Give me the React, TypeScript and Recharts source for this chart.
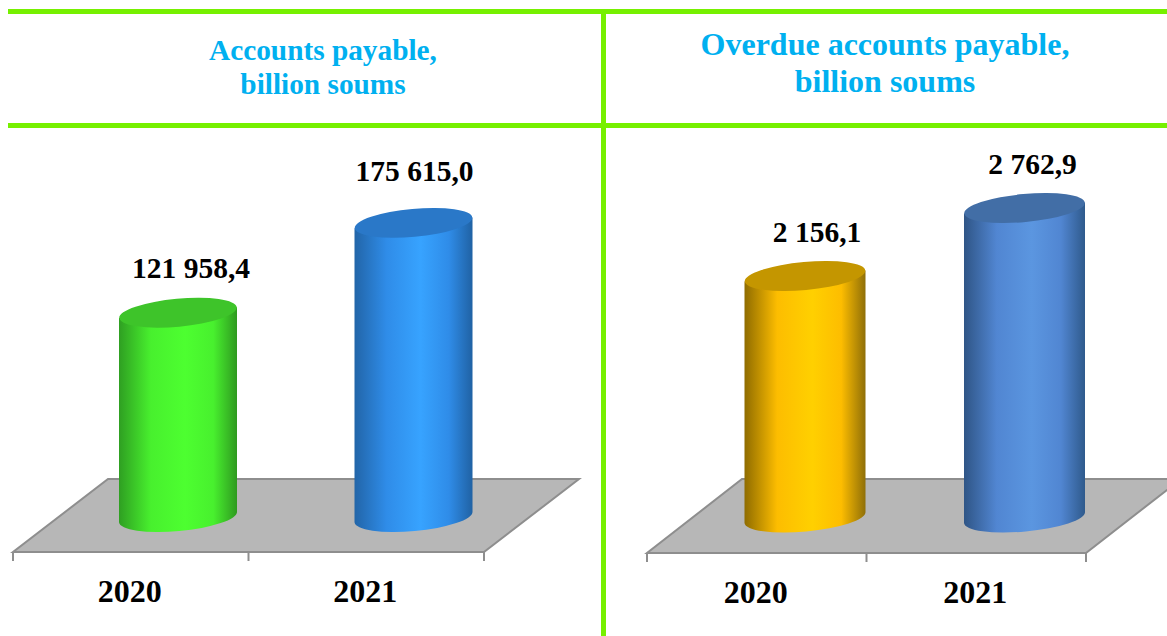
import { Bar, BarChart, LabelList, XAxis, YAxis, usePlotArea } from "recharts";

const years = ["2020", "2021"];
const payable = [121958.4, 175615.0];
const overdue = [2156.1, 2762.9];

const serif = "'Liberation Serif', 'Times New Roman', serif";
const LINE = "#76f000";
const TITLE = "#00b0f0";

type Tone = { edgeL: string; mid: string; light: string; edgeR: string; top: string };

const greenTone: Tone = { edgeL: "#2f9f22", mid: "#48f02e", light: "#4dff30", edgeR: "#2f9a20", top: "#3ec42a" };
const skyTone: Tone = { edgeL: "#2265a8", mid: "#2f8ce8", light: "#37a3ff", edgeR: "#2062a4", top: "#2a78c8" };
const goldTone: Tone = { edgeL: "#8f6c00", mid: "#fdbd00", light: "#ffd000", edgeR: "#8f6f08", top: "#c49600" };
const steelTone: Tone = { edgeL: "#2f5586", mid: "#5186d2", light: "#5b96e0", edgeR: "#2f5a8c", top: "#426ea6" };

const toRows = (values: number[]) => years.map((year, i) => ({ year, value: values[i] }));

const fmt = (v: number) => {
    const [whole, dec] = v.toFixed(1).split(".");
    return whole.replace(/\B(?=(\d{3})+$)/g, " ") + "," + dec;
};

// floor of the fake 3d chart, the ticks sit on the band edges
const Floor = ({ depthX, depthY }: { depthX: number; depthY: number }) => {
    const plot = usePlotArea();
    if (!plot) return null;
    const { x, y, width, height } = plot;
    const b = y + height;
    const pts = `${x},${b} ${x + width},${b} ${x + width + depthX},${b - depthY} ${x + depthX},${b - depthY}`;
    return (
        <g>
            <polygon points={pts} fill="#b7b7b7" stroke="#8e8e8e" strokeWidth={2} />
            {[0, 0.5, 1].map((t) => (
                <line key={t} x1={x + width * t} x2={x + width * t} y1={b} y2={b + 9} stroke="#8e8e8e" strokeWidth={2} />
            ))}
        </g>
    );
};

const Cylinder = (props: any) => {
    const { x, y, width, height, index, tones, shiftX, shiftY, name } = props;
    const tone: Tone = tones[index];
    const rx = width / 2;
    const ry = 14;
    const tilt = -5.2;
    const lift = Math.tan((-tilt * Math.PI) / 180) * rx;
    const left = x + shiftX;
    const right = left + width;
    const topY = y + shiftY;
    const baseY = y + height + shiftY;
    const id = `cyl-${name}-${index}`;
    const d = `M ${left} ${topY + lift} L ${right} ${topY - lift} L ${right} ${baseY - lift} A ${rx} ${ry} ${tilt} 0 1 ${left} ${baseY + lift} Z`;
    return (
        <g>
            <defs>
                <linearGradient id={id} x1="0" x2="1" y1="0" y2="0">
                    <stop offset="0" stopColor={tone.edgeL} />
                    <stop offset="0.27" stopColor={tone.mid} />
                    <stop offset="0.56" stopColor={tone.light} />
                    <stop offset="0.8" stopColor={tone.mid} />
                    <stop offset="1" stopColor={tone.edgeR} />
                </linearGradient>
            </defs>
            <path d={d} fill={`url(#${id})`} />
            <ellipse cx={left + rx} cy={topY} rx={rx} ry={ry} fill={tone.top} transform={`rotate(${tilt} ${left + rx} ${topY})`} />
        </g>
    );
};

type PanelProps = {
    name: string;
    values: number[];
    tones: Tone[];
    left: number;
    width: number;
    margin: { top: number; right: number; bottom: number; left: number };
    axisHeight: number;
    maxY: number;
    barSize: number;
    shiftX: number;
    shiftY: number;
    depthX: number;
    depthY: number;
    labelDx: number[];
    labelDy: number[];
    yearSize: number;
};

const Panel = (p: PanelProps) => {
    return (
        <div style={{ position: "absolute", left: p.left, top: 0 }}>
            <BarChart width={p.width} height={636} data={toRows(p.values)} margin={p.margin}>
                <Floor depthX={p.depthX} depthY={p.depthY} />
                <XAxis
                    dataKey="year"
                    height={p.axisHeight}
                    axisLine={false}
                    tickLine={false}
                    tickMargin={21}
                    tick={{ fill: "#000", fontFamily: serif, fontWeight: 700, fontSize: p.yearSize, dx: -1 }}
                />
                <YAxis hide domain={[0, p.maxY]} />
                <Bar
                    dataKey="value"
                    barSize={p.barSize}
                    isAnimationActive={false}
                    shape={(s: any) => (
                        <Cylinder {...s} name={p.name} tones={p.tones} shiftX={p.shiftX} shiftY={p.shiftY} />
                    )}
                >
                    <LabelList
                        dataKey="value"
                        content={(l: any) => (
                            <text
                                x={l.x + l.width / 2 + p.shiftX + p.labelDx[l.index]}
                                y={l.y + p.shiftY + p.labelDy[l.index]}
                                textAnchor="middle"
                                dominantBaseline="central"
                                fontFamily={serif}
                                fontWeight={700}
                                fontSize={29.5}
                                fill="#000"
                            >
                                {fmt(l.value)}
                            </text>
                        )}
                    />
                </Bar>
            </BarChart>
        </div>
    );
};

const rule = (left: number, top: number, width: number, height: number) => (
    <div style={{ position: "absolute", left, top, width, height, background: LINE }} />
);

const Title = ({ left, top, width, size, gap, lines }: { left: number; top: number; width: number; size: number; gap: number; lines: string[] }) => (
    <div
        style={{
            position: "absolute",
            left,
            top,
            width,
            textAlign: "center",
            fontFamily: serif,
            fontWeight: 700,
            fontSize: size,
            lineHeight: `${gap}px`,
            color: TITLE,
        }}
    >
        {lines.map((t) => (
            <div key={t}>{t}</div>
        ))}
    </div>
);

const App = () => {
    return (
        <div style={{ position: "absolute", left: 0, top: 0, width: 1167, height: 636, overflow: "hidden", background: "#fff" }}>
            <Panel
                name="payable"
                values={payable}
                tones={[greenTone, skyTone]}
                left={0}
                width={604}
                margin={{ top: 217, right: 120, bottom: 0, left: 13 }}
                axisHeight={84}
                maxY={200000}
                barSize={118}
                shiftX={47}
                shiftY={-35}
                depthX={95}
                depthY={73}
                labelDx={[13, 1]}
                labelDy={[-45, -52]}
                yearSize={32}
            />
            <Panel
                name="overdue"
                values={overdue}
                tones={[goldTone, steelTone]}
                left={606}
                width={561}
                margin={{ top: 217, right: 81, bottom: 0, left: 41 }}
                axisHeight={83}
                maxY={3000}
                barSize={121}
                shiftX={48.5}
                shiftY={-35.5}
                depthX={95}
                depthY={74}
                labelDx={[12, 8]}
                labelDy={[-44, -44]}
                yearSize={32}
            />
            {rule(8, 9, 1159, 5)}
            {rule(8, 123, 1159, 5)}
            {rule(601, 9, 5, 627)}
            <Title left={8} top={33} width={630} size={29.3} gap={34} lines={["Accounts payable,", "billion soums"]} />
            <Title left={606} top={26} width={558} size={32} gap={37} lines={["Overdue accounts payable,", "billion soums"]} />
        </div>
    );
};

export default App;
